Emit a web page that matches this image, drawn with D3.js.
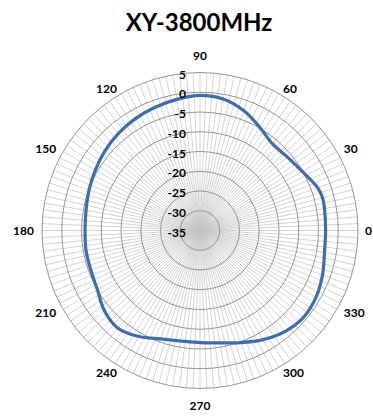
<!DOCTYPE html>
<html>
<head>
<meta charset="utf-8">
<script src="https://cdn.jsdelivr.net/npm/d3@7"></script>
<style>
  html, body { margin: 0; padding: 0; background: #ffffff; }
  svg { display: block; }
  text { font-family: Lato, "Open Sans", sans-serif; font-weight: bold; fill: #000; }
</style>
</head>
<body>
<div id="chart"></div>
<script>
// ---- data ----
const title = "XY-3800MHz";
const angleLabels = [0, 30, 60, 90, 120, 150, 180, 210, 240, 270, 300, 330];
const radialTicks = [5, 0, -5, -10, -15, -20, -25, -30, -35];
const measAngles = [0, 10, 15, 20, 30, 40, 50, 60, 70, 80, 90, 100, 110, 120, 130, 140, 150, 160, 170,
                    180, 190, 200, 210, 220, 230, 240, 250, 260, 270, 280, 290, 300, 310, 320, 330, 340, 350];
const gainDb = [-3.2, -3.0, -2.9, -3.3, -5.1, -6.1, -6.4, -4.8, -2.7, -1.2, -0.8, -1.3, -1.8, -2.3, -2.9, -3.6, -4.4, -5.1, -5.7,
                -5.9, -5.7, -5.6, -5.0, -3.4, -2.7, -4.0, -5.8, -6.6, -6.6, -6.1, -4.8, -3.1, -1.6, -0.8, -1.1, -2.0, -3.0];
const categoryStep = 2.5; // degrees between radar categories

// ---- layout ----
const W = 373, H = 417;
const cx = 200, cy = 230.5, R = 158;

const svg = d3.select("#chart").append("svg").attr("width", W).attr("height", H);

const r = d3.scaleLinear().domain([-35, 5]).range([0, R]);
const g = svg.append("g").attr("transform", `translate(${cx},${cy})`);

// spokes
const cats = d3.range(0, 360, categoryStep);
g.append("g").selectAll("line").data(cats).join("line")
  .attr("x1", 0).attr("y1", 0)
  .attr("x2", d => R * Math.cos(d * Math.PI / 180))
  .attr("y2", d => -R * Math.sin(d * Math.PI / 180))
  .attr("stroke", "#c4c4c4").attr("stroke-width", 0.75);

// rings
g.append("g").selectAll("circle").data(radialTicks.filter(v => v > -35)).join("circle")
  .attr("r", d => r(d)).attr("fill", "none")
  .attr("stroke", "#959595").attr("stroke-width", 1);

// data curve
const pts = measAngles.map((a, i) => ({ a, v: gainDb[i] }));
const line = d3.lineRadial()
  .angle(d => (90 - d.a) * Math.PI / 180)
  .radius(d => r(d.v))
  .curve(d3.curveCatmullRomClosed.alpha(0.5));
g.append("path").datum(pts).attr("d", line)
  .attr("fill", "none").attr("stroke", "#3e6dab").attr("stroke-width", 3.2)
  .attr("stroke-linejoin", "round");

// radial tick labels
g.append("g").selectAll("text").data(radialTicks).join("text")
  .attr("x", -14).attr("y", d => -r(d) + 1.5)
  .attr("text-anchor", "end").attr("dominant-baseline", "central")
  .attr("font-size", 12).text(d => d);

// angle labels
const al = svg.append("g").selectAll("text").data(angleLabels).join("text")
  .attr("font-size", 12).attr("text-anchor", "middle").attr("dominant-baseline", "central")
  .text(d => d);
al.each(function(d) {
  const t = d3.select(this);
  const w = this.getComputedTextLength();
  const th = d * Math.PI / 180;
  const c = Math.cos(th), s = Math.sin(th);
  let x, y;
  if (Math.abs(c) < 0.01) {
    x = cx;
    y = cy - (R + 17) * s;
  } else {
    x = cx + (R + 8) * c + Math.sign(c) * w / 2;
    y = cy - (R + 6.5) * s;
  }
  x = Math.min(x, W - w / 2 - 1);
  t.attr("x", x).attr("y", y);
});

// title
svg.append("text").attr("x", 199).attr("y", 21)
  .attr("text-anchor", "middle").attr("dominant-baseline", "central")
  .attr("font-size", 24).text(title);
</script>
</body>
</html>
